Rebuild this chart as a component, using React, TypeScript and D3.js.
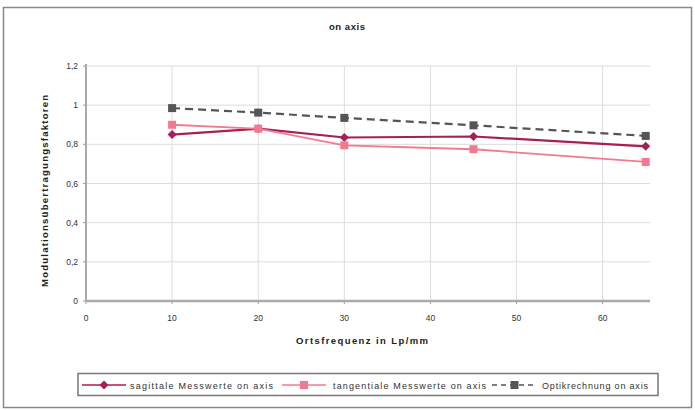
import React from "react";
import * as d3 from "d3";

const xValues = [10, 20, 30, 45, 65];
const sagittal = [0.85, 0.88, 0.835, 0.84, 0.79];
const tangential = [0.9, 0.88, 0.795, 0.775, 0.71];
const optik = [0.985, 0.962, 0.935, 0.897, 0.843];
const xTicks = [0, 10, 20, 30, 40, 50, 60];
const yTicks = [0, 0.2, 0.4, 0.6, 0.8, 1, 1.2];
const seriesNames = [
  "sagittale Messwerte on axis",
  "tangentiale Messwerte on axis",
  "Optikrechnung on axis",
];

const W = 695;
const H = 410;
const left = 86;
const right = 650;
const top = 66;
const bottom = 301;

export default function App() {
  const x = d3.scaleLinear().domain([0, 65.5]).range([left, right]);
  const y = d3.scaleLinear().domain([0, 1.2]).range([bottom, top]);
  const line = d3
    .line<[number, number]>()
    .x((d) => x(d[0]))
    .y((d) => y(d[1]));
  const fmt = (v: number) => String(v).replace(".", ",");
  const series = [
    { vals: sagittal, color: "#a81e55", dash: "", marker: "diamond" },
    { vals: tangential, color: "#f07a90", dash: "", marker: "square" },
    { vals: optik, color: "#555555", dash: "8,5", marker: "square" },
  ];
  const font = "Liberation Sans, Arial, sans-serif";
  const marker = (m: string, cx: number, cy: number, color: string, k: string) =>
    m === "diamond" ? (
      <path key={k} d={`M${cx},${cy - 4.5}L${cx + 4.5},${cy}L${cx},${cy + 4.5}L${cx - 4.5},${cy}Z`} fill={color} />
    ) : (
      <rect key={k} x={cx - 4} y={cy - 4} width={8} height={8} fill={color} />
    );
  const legendItems = [
    { x0: 82, x1: 126, tx: 130, tw: 143 },
    { x0: 282, x1: 326, tx: 333, tw: 153 },
    { x0: 492, x1: 537, tx: 542, tw: 106 },
  ];
  return (
    <svg width={W} height={H} style={{ position: "absolute", left: 0, top: 0 }} fontFamily={font}>
      <rect x={0} y={0} width={W} height={H} fill="#fff" />
      <rect x={3.5} y={7.5} width={688} height={400} fill="none" stroke="#888" strokeWidth={1.5} />
      <text x={347} y={30} textAnchor="middle" fontSize={9.5} fontWeight="bold" fill="#222" textLength={36} lengthAdjust="spacing">
        on axis
      </text>
      {yTicks.map((t) => (
        <g key={"y" + t}>
          {t > 0 && <line x1={left} x2={right} y1={y(t)} y2={y(t)} stroke="#ddd" strokeWidth={1} />}
          <line x1={left - 3} x2={left} y1={y(t)} y2={y(t)} stroke="#999" />
          <text x={left - 8} y={y(t) + 3} textAnchor="end" fontSize={8.5} fill="#333">
            {fmt(t)}
          </text>
        </g>
      ))}
      {xTicks.map((t) => (
        <g key={"x" + t}>
          {t > 0 && <line x1={x(t)} x2={x(t)} y1={top} y2={bottom} stroke="#ddd" strokeWidth={1} />}
          <line x1={x(t)} x2={x(t)} y1={bottom} y2={bottom + 3} stroke="#999" />
          <text x={x(t)} y={bottom + 20} textAnchor="middle" fontSize={8.5} fill="#333">
            {t}
          </text>
        </g>
      ))}
      <line x1={left} x2={left} y1={top - 2} y2={bottom} stroke="#aaa" strokeWidth={2} />
      <line x1={left} x2={right} y1={bottom} y2={bottom} stroke="#aaa" strokeWidth={2.5} />
      {series.map((s, i) => (
        <g key={"s" + i}>
          <path
            d={line(xValues.map((v, j) => [v, s.vals[j]]) as [number, number][]) || ""}
            fill="none"
            stroke={s.color}
            strokeWidth={i === 1 ? 1.8 : 2.2}
            strokeDasharray={s.dash}
          />
          {xValues.map((v, j) => marker(s.marker, x(v), y(s.vals[j]), s.color, `m${i}-${j}`))}
        </g>
      ))}
      <text
        transform={`translate(48,${191}) rotate(-90)`}
        textAnchor="middle"
        fontSize={9.5}
        fontWeight="bold"
        fill="#222"
        textLength={192}
        lengthAdjust="spacing"
      >
        Modulationsübertragungsfaktoren
      </text>
      <text x={362} y={344} textAnchor="middle" fontSize={9.5} fontWeight="bold" fill="#222" textLength={132} lengthAdjust="spacing">
        Ortsfrequenz in Lp/mm
      </text>
      <rect x={78} y={373.5} width={580} height={22} fill="#fff" stroke="#777" strokeWidth={1.5} />
      {legendItems.map((l, i) => {
        const s = series[i];
        const cy = 385;
        return (
          <g key={"l" + i}>
            <line x1={l.x0} x2={l.x1} y1={cy} y2={cy} stroke={s.color} strokeWidth={1.5} strokeDasharray={s.dash ? "5,4" : ""} />
            {marker(s.marker, (l.x0 + l.x1) / 2, cy, s.color, "lm" + i)}
            <text x={l.tx} y={cy + 3.5} fontSize={9} fill="#333" textLength={l.tw} lengthAdjust="spacing">
              {seriesNames[i]}
            </text>
          </g>
        );
      })}
    </svg>
  );
}
